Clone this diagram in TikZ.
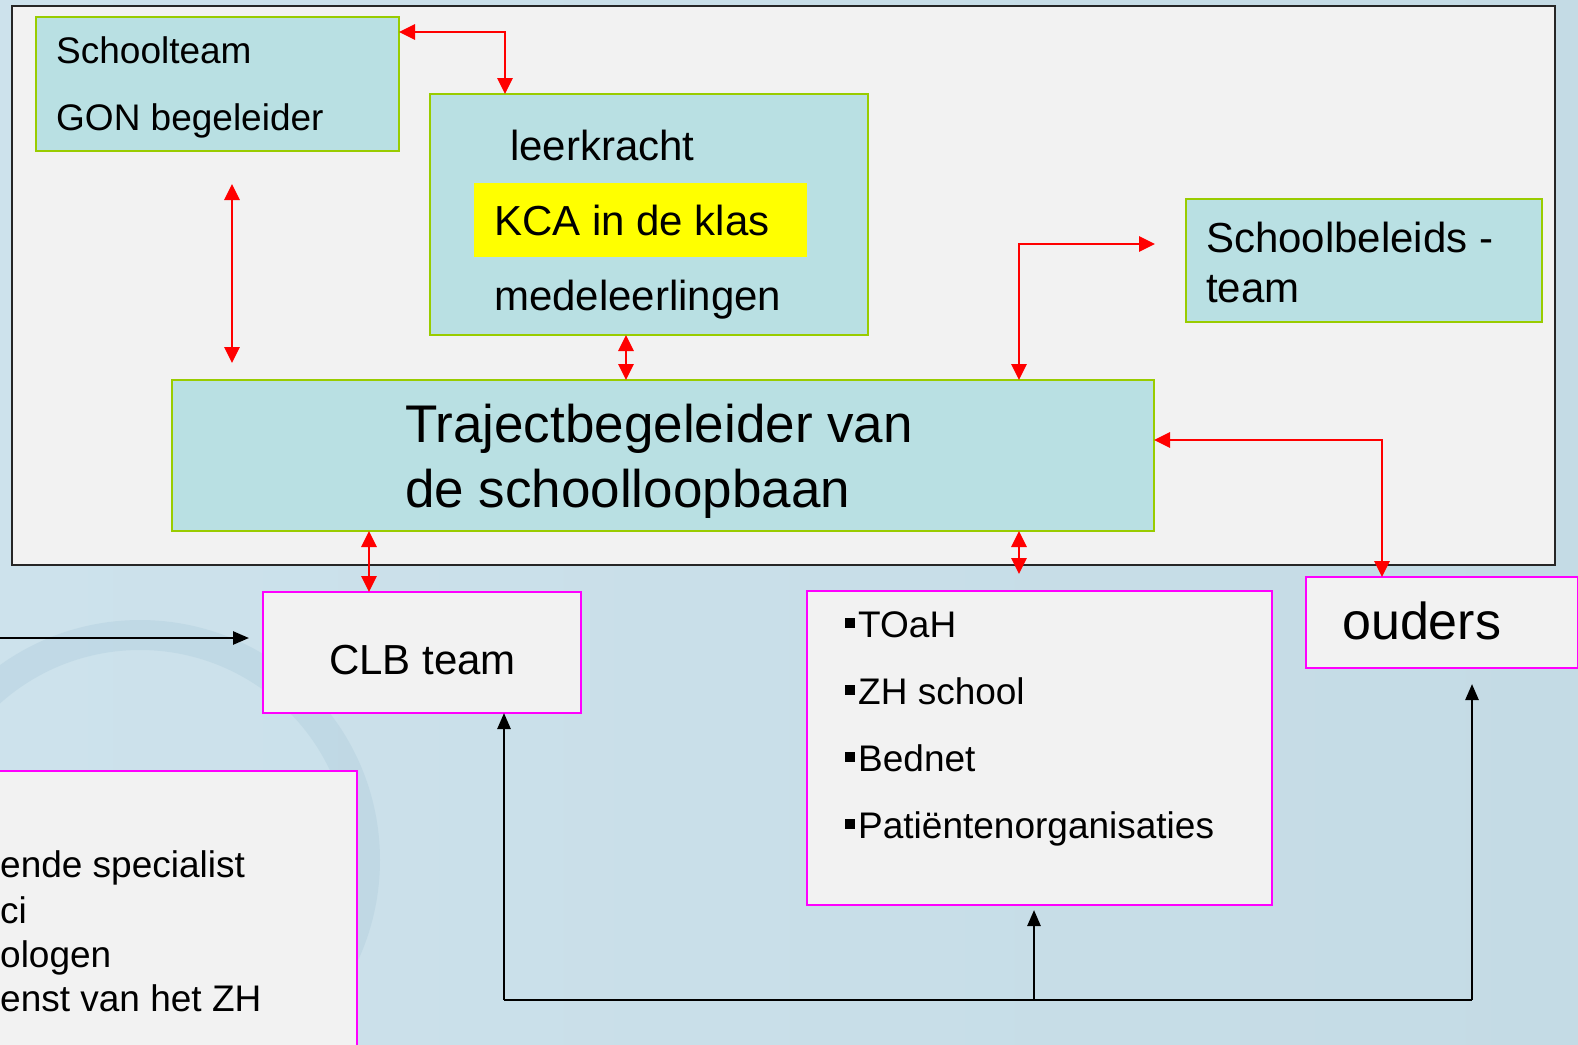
\documentclass[tikz,border=0pt]{standalone}
\usepackage{fontspec}
\setmainfont{Liberation Sans}
\usetikzlibrary{arrows.meta,positioning}

\definecolor{achterL}{RGB}{205,226,236}
\definecolor{achterR}{RGB}{196,219,229}
\definecolor{logo}{RGB}{172,203,219}
\definecolor{kader}{RGB}{242,242,242}
\definecolor{blok}{RGB}{185,224,227}
\definecolor{groen}{RGB}{153,204,0}
\definecolor{roze}{RGB}{255,0,255}
\definecolor{geel}{RGB}{255,255,0}

\newcommand{\blokje}{\rule[9pt]{10pt}{10pt}\hspace{3pt}}

\tikzset{
  blauwblok/.style={draw=groen, fill=blok, line width=2.5pt, anchor=north west, inner sep=0pt, outer sep=0pt},
  rozeblok/.style={draw=roze, fill=kader, line width=2.5pt, anchor=north west, inner sep=0pt, outer sep=0pt},
  tekst/.style={anchor=base west, inner sep=0pt, font=\fontsize{#1}{#1}\selectfont},
  rood/.style={draw=red, line width=2.8pt, {Triangle[length=16pt,width=15pt]}-{Triangle[length=16pt,width=15pt]}},
  zwart/.style={draw=black, line width=2.6pt, -{Triangle[length=16pt,width=13pt]}},
}

\begin{document}
\begin{tikzpicture}[x=1pt,y=-1pt]
\useasboundingbox (0,0) rectangle (1578,1044);
% achtergrond met logo
\shade[left color=achterL, right color=achterR] (0,0) rectangle (1578,1044);
\draw[logo, line width=30pt, opacity=0.35] (140,860) circle (225);

% kader rond de school
\draw[fill=kader, draw=black!85, line width=2.5pt] (12,6) rectangle (1555,565);

% blokken binnen de school
\node[blauwblok, minimum width=363pt, minimum height=134pt] (schoolteam) at (36,17) {};
\node[tekst=37] (st1) at (56,63) {Schoolteam};
\node[tekst=37] (st2) at (56,130) {GON begeleider};

\node[blauwblok, minimum width=438pt, minimum height=241pt] (klas) at (430,94) {};
\node[fill=geel, anchor=north west, minimum width=333pt, minimum height=74pt, inner sep=0pt] (kca) at (474,183) {};
\node[tekst=42] (kl1) at (510,160) {leerkracht};
\node[tekst=42] (kl2) at (494,235) {KCA in de klas};
\node[tekst=42] (kl3) at (494,310) {medeleerlingen};

\node[blauwblok, minimum width=356pt, minimum height=123pt] (beleid) at (1186,199) {};
\node[tekst=42] (bl1) at (1206,252) {Schoolbeleids -};
\node[tekst=42] (bl2) at (1206,302) {team};

\node[blauwblok, minimum width=982pt, minimum height=151pt] (traject) at (172,380) {};
\node[tekst=53] (tr1) at (405,442) {Trajectbegeleider van};
\node[tekst=53] (tr2) at (405,507) {de schoolloopbaan};

% blokken buiten de school
\node[rozeblok, minimum width=318pt, minimum height=121pt] (clb) at (263,592) {};
\node[tekst=42] (clbt) at (329,674) {CLB team};

\node[rozeblok, minimum width=465pt, minimum height=314pt] (zh) at (807,591) {};
\node[tekst=37] (zh1) at (845,637) {\blokje TOaH};
\node[tekst=37] (zh2) at (845,704) {\blokje ZH school};
\node[tekst=37] (zh3) at (845,771) {\blokje Bednet};
\node[tekst=37] (zh4) at (845,838) {\blokje Patiëntenorganisaties};

\node[rozeblok, minimum width=272pt, minimum height=91pt] (ouders) at (1306,577) {};
\node[tekst=52] (oudt) at (1342,639) {ouders};

\node[rozeblok, minimum width=377pt, minimum height=320pt] (spec) at (-20,771) {};
\node[tekst=37] (sp1) at (0,877) {ende specialist};
\node[tekst=37] (sp2) at (0,923) {ci};
\node[tekst=37] (sp3) at (0,967) {ologen};
\node[tekst=37] (sp4) at (0,1011) {enst van het ZH};

% rode verbindingen
\draw[rood] ([yshift=-15pt]schoolteam.north east) -| ([xshift=75pt]klas.north west);
\draw[rood, shorten <=33pt, shorten >=17pt] ([xshift=196pt]schoolteam.south west) -- ([xshift=60pt]traject.north west);
\draw[rood] ([xshift=196pt]klas.south west) -- ([xshift=454pt]traject.north west);
\draw[rood, shorten >=31pt] ([xshift=847pt]traject.north west) |- ([yshift=-45pt]beleid.north west);
\draw[rood] ([yshift=-60pt]traject.north east) -| ([xshift=76pt]ouders.north west);
\draw[rood] ([xshift=197pt]traject.south west) -- ([xshift=106pt]clb.north west);
\draw[rood, shorten >=17pt] ([xshift=847pt]traject.south west) -- ([xshift=212pt]zh.north west);

% zwarte verbindingen
\coordinate (rand) at (0,638);
\coordinate (busL) at (504,1000);
\coordinate (busM) at (1034,1000);
\coordinate (busR) at (1472,1000);
\draw[zwart, shorten >=14pt] (rand) -- (clb.west |- rand);
\draw[line width=2.6pt] (busL) -- (busR);
\draw[zwart] (busL) -- (clb.south -| busL);
\draw[zwart, shorten >=5pt] (busM) -- (zh.south -| busM);
\draw[zwart, shorten >=16pt] (busR) -- (ouders.south -| busR);
\end{tikzpicture}
\end{document}
